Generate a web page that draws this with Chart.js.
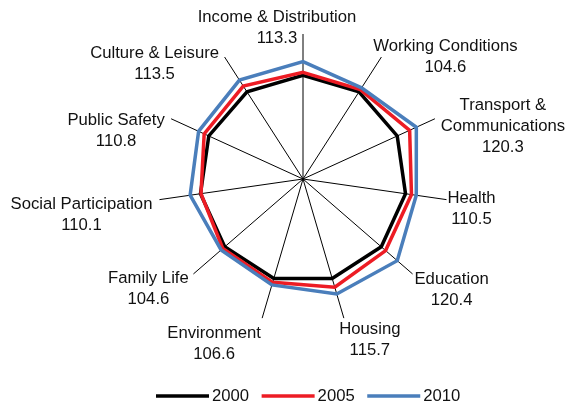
<!DOCTYPE html>
<html><head><meta charset="utf-8">
<script src="https://cdn.jsdelivr.net/npm/chart.js@4/dist/chart.umd.min.js"></script>
<style>html,body{margin:0;padding:0;background:#fff;}</style>
</head><body>
<canvas id="c" width="569" height="402"></canvas>
<script>
// ---- data ----
const categories = [
  ["Income & Distribution"], ["Working Conditions"], ["Transport &", "Communications"],
  ["Health"], ["Education"], ["Housing"], ["Environment"], ["Family Life"],
  ["Social Participation"], ["Public Safety"], ["Culture & Leisure"]
];
const seriesNames = ["2000", "2005", "2010"];
const values2000 = [100, 100, 100, 100, 100, 100, 100, 100, 100, 100, 100];
const values2005 = [103, 102.5, 113.2, 105.8, 105.5, 108.9, 104, 102.5, 99.5, 104.9, 106.7];
const values2010 = [113.3, 104.6, 120.3, 110.5, 120.4, 115.7, 106.6, 104.6, 110.1, 110.8, 113.5];
const axisMin = 0, axisMax = 140;

// ---- layout / style ----
const FONT = '16.7px "Liberation Sans", Arial, sans-serif';
const TEXT = '#111';
const LINE_GAP = 21;
const labelOffsets = [[-26,-6.5],[64,-0.5],[68,7.5],[25,9.5],[39,16],[26,21.5],[-48,25.5],[-45,14.5],[-78,15.5],[-55,12.5],[-70,6.5]];
const colors = ['#000000', '#ED1C24', '#4A7EBB'];

const labelPlugin = {
  id: 'catLabels',
  afterDraw(chart) {
    const s = chart.scales.r, ctx = chart.ctx;
    ctx.save();
    ctx.font = FONT; ctx.fillStyle = TEXT;
    ctx.textAlign = 'center'; ctx.textBaseline = 'middle';
    categories.forEach((lines, i) => {
      const p = s.getPointPosition(i, s.drawingArea);
      const all = lines.concat([values2010[i].toFixed(1)]);
      const cx = p.x + labelOffsets[i][0], cy = p.y + labelOffsets[i][1];
      all.forEach((t, j) => ctx.fillText(t, cx, cy + (j - (all.length - 1) / 2) * LINE_GAP));
    });
    // legend
    let x = 156; const y = 396;
    ctx.textAlign = 'left';
    chart.data.datasets.forEach(ds => {
      ctx.strokeStyle = ds.borderColor; ctx.lineWidth = 3.5; ctx.lineCap = 'butt';
      ctx.beginPath(); ctx.moveTo(x, y); ctx.lineTo(x + 53, y); ctx.stroke();
      ctx.fillStyle = TEXT;
      ctx.fillText(ds.label, x + 56, y);
      x += 53 + 3 + ctx.measureText(ds.label).width + 12.5;
    });
    ctx.restore();
  }
};

new Chart(document.getElementById('c'), {
  type: 'radar',
  data: {
    labels: categories.map(l => l.join(' ')),
    datasets: [
      { label: seriesNames[0], data: values2000, borderColor: colors[0], order: 3 },
      { label: seriesNames[1], data: values2005, borderColor: colors[1], order: 2 },
      { label: seriesNames[2], data: values2010, borderColor: colors[2], order: 1 }
    ].map(d => Object.assign({ borderWidth: 3.5, pointRadius: 0, fill: false, tension: 0, borderJoinStyle: 'miter', backgroundColor: 'transparent' }, d))
  },
  options: {
    responsive: false, animation: false, devicePixelRatio: 1,
    layout: { padding: { top: 34, bottom: 78, left: 103, right: 66 } },
    plugins: { legend: { display: false }, tooltip: { enabled: false } },
    scales: {
      r: {
        min: axisMin, max: axisMax,
        ticks: { display: false },
        grid: { display: false },
        angleLines: { display: true, color: '#000', lineWidth: 1 },
        pointLabels: { display: false }
      }
    }
  },
  plugins: [labelPlugin]
});
</script>
</body></html>
